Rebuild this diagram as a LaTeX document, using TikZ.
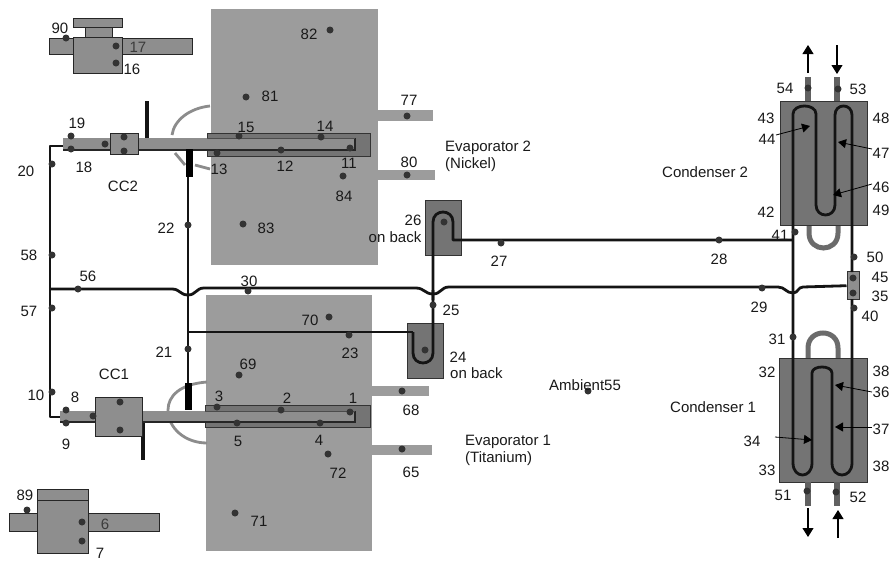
\documentclass[tikz,border=0pt]{standalone}
\usepackage{fontspec}
\setmainfont{Liberation Sans}
\usetikzlibrary{arrows.meta}
\definecolor{plate}{HTML}{9C9C9C}
\definecolor{dark}{HTML}{747474}
\definecolor{tubeg}{HTML}{8E8E8E}
\definecolor{sens}{HTML}{333333}
\definecolor{labg}{HTML}{3C3C3C}
\tikzset{
  plateb/.style={fill=plate},
  darkb/.style={fill=dark,draw=black!80,line width=1pt},
  partb/.style={fill=tubeg,draw=black!85,line width=1pt},
  pipe/.style={draw=black!92,line width=2.8pt,line join=round},
  thin pipe/.style={draw=black!92,line width=2pt},
  fatbar/.style={draw=black,line width=7pt},
  hose/.style={draw=black!45,line width=2.8pt},
  loopa/.style={draw=black!58,line width=5pt},
  coolant/.style={draw=black!62,line width=6pt},
  flow/.style={draw=black,line width=1.1pt,-{Triangle[length=9pt,width=11pt]}},
  leader/.style={draw=black,line width=.8pt,-{Triangle[length=8pt,width=9pt]}},
  sensor/.style={circle,fill=sens,inner sep=0pt,minimum size=7pt},
  lab/.style={font=\fontsize{15}{16}\selectfont,text=black!90,inner sep=0pt},
  leftlab/.style={lab,anchor=west,align=left},
}
\begin{document}
\begin{tikzpicture}[x=1pt,y=-1pt]
\useasboundingbox (0,0) rectangle (891,562);
\clip (0,0) rectangle (891,562);
% evaporator plates and fins
\foreach \a/\b/\c/\d in {211/9/378/265,206/295/372/551,378/110/433/121,378/170/435/180,372/386/429/396,372/445/432/455}{
  \fill[plateb] (\a,\b) rectangle (\c,\d);
}
% flexible loops
\draw[hose] (210,106) .. controls (190,108) and (174,120) .. (172,135);
\draw[hose] (175,153) -- (185,165);
\draw[hose] (195,165) -- (210,169);
\draw[hose] (207,382) .. controls (180,384) and (168,396) .. (168,410) .. controls (168,428) and (185,443) .. (207,443);
% upper inset
\node[partb,minimum width=143pt,minimum height=16pt,inner sep=0pt] (bar17) at (120.5,46) {};
\node[partb,minimum width=49pt,minimum height=9pt,inner sep=0pt] (cap17) at (97.5,22.5) {};
\node[partb,minimum width=27pt,minimum height=10pt,inner sep=0pt] (neck17) at (98.5,32) {};
\node[partb,minimum width=49pt,minimum height=36pt,inner sep=0pt] (block16) at (97.5,55) {};
% lower inset
\node[partb,minimum width=150pt,minimum height=18pt,inner sep=0pt] (bar6) at (84,522) {};
\node[partb,minimum width=51pt,minimum height=11pt,inner sep=0pt] (cap7) at (62.5,495) {};
\node[partb,minimum width=51pt,minimum height=53pt,inner sep=0pt] (block7) at (62.5,527) {};
% stubs
\coordinate (stub2a) at (147,101);
\coordinate (stub2b) at (147,140);
\coordinate (stub1a) at (143,420);
\coordinate (stub1b) at (143,460);
\draw[pipe,line width=3.4pt] (stub2a) -- (stub2b);
\draw[pipe,line width=3.4pt] (stub1a) -- (stub1b);
% evaporator sleeves
\node[darkb,minimum width=163pt,minimum height=23pt,inner sep=0pt] (sleeve2) at (288.5,144.5) {};
\node[darkb,minimum width=165pt,minimum height=22pt,inner sep=0pt] (sleeve1) at (287.5,416) {};
% heat-pipe tubes
\fill[tubeg] (63,138) rectangle (355,150);
\draw[black!85,line width=1.5pt] (63,150) -- (355,150) -- (355,138);
\draw[black!70,line width=.7pt] (207,138) -- (355,138);
\fill[tubeg] (60,411) rectangle (355,422);
\draw[black!85,line width=1.5pt] (60,422) -- (355,422) -- (355,411);
\draw[black!70,line width=.7pt] (205,411) -- (355,411);
% compensation chambers
\node[partb,minimum width=28pt,minimum height=21pt,inner sep=0pt] (cc2) at (124,143.5) {};
\node[partb,minimum width=47pt,minimum height=39pt,inner sep=0pt] (cc1) at (118.5,416.5) {};
% reservoir boxes
\node[darkb,minimum width=36pt,minimum height=55pt,inner sep=0pt] (box26) at (443,227.5) {};
\node[darkb,minimum width=36pt,minimum height=55pt,inner sep=0pt] (box24) at (425,350.5) {};
% coolant loops
\draw[loopa] (809,225) -- (809,233) .. controls (809,253) and (838,253) .. (838,233) -- (838,225);
\draw[loopa] (808,358) -- (808,348) .. controls (808,328) and (838,328) .. (838,348) -- (838,358);
% condenser boxes
\node[darkb,minimum width=87pt,minimum height=124pt,inner sep=0pt] (cond2) at (823.5,163) {};
\node[darkb,minimum width=88pt,minimum height=124pt,inner sep=0pt] (cond1) at (823,420) {};
% coolant stubs
\draw[coolant] (808,77) -- (808,101);
\draw[coolant] (837,77) -- (837,101);
\draw[coolant] (808,482) -- (808,506);
\draw[coolant] (837,482) -- (837,506);
% box 45/35
\node[fill=tubeg,draw=black!80,line width=1pt,minimum width=12pt,minimum height=28pt,inner sep=0pt] (box4535) at (853,285.5) {};
% main transport lines
\coordinate (j20a) at (63,146);
\coordinate (j10a) at (60,417);
\draw[pipe] (j20a) -- (50,146) -- (50,417) -- (j10a);
\draw[pipe] (188,160) -- (188,405);
\draw[fatbar] (189,149) -- (189,177);
\draw[fatbar] (188,383) -- (188,410);
\draw[pipe] (50,289) -- (172,289) .. controls (180,289) and (180,295) .. (188,295) .. controls (196,295) and (196,288) .. (204,288)
  -- (416,288) .. controls (424,288) and (425,294) .. (433,294) .. controls (441,294) and (441,287) .. (449,287)
  -- (778,287) .. controls (785,287) and (786,293) .. (793,293) .. controls (798,293) and (798,287) .. (803,287) -- (box4535);
\draw[thin pipe] (188,332) -- (413,332);
\draw[pipe] (433,300) -- (433,222) .. controls (433,208.7) and (453,208.7) .. (453,222) -- (453,240) -- (793,240);
\draw[pipe] (413,332) -- (413,353) .. controls (413,366.3) and (433,366.3) .. (433,353) -- (433,290);
% condenser serpentines
\draw[pipe] (793,463) -- (793,114) .. controls (793,103.3) and (816,103.3) .. (816,114) -- (816,205) .. controls (816,218.3) and (835,218.3) .. (835,205) -- (835,115) .. controls (835,103) and (852,103) .. (852,115) -- (852,272);
\draw[pipe] (793,463) .. controls (793,479) and (812,479) .. (812,463) -- (812,373) .. controls (812,365) and (832,365) .. (832,373) -- (832,463) .. controls (832,479) and (852,479) .. (852,463) -- (852,299);
% flow arrows
\coordinate (fa1) at (808,73); \coordinate (fa2) at (808,45);
\coordinate (fb1) at (837,45); \coordinate (fb2) at (837,74);
\coordinate (fc1) at (808,508); \coordinate (fc2) at (808,537);
\coordinate (fd1) at (838,538); \coordinate (fd2) at (838,510);
\draw[flow] (fa1) -- (fa2);
\draw[flow] (fb1) -- (fb2);
\draw[flow] (fc1) -- (fc2);
\draw[flow] (fd1) -- (fd2);
% leaders
\draw[leader] (776,135) -- (810,126);
\draw[leader] (872,149) -- (838,142);
\draw[leader] (872,184) -- (833,195);
\draw[leader] (872,392) -- (835,385);
\draw[leader] (872,427) -- (835,427);
\draw[leader] (775,437) -- (812,440);
% sensors
\foreach \n/\x/\y in {s90/66/38,s17/116/46,s16/116/63,s19/71/136,s18/71/149,sa/105/144,sb/124/137,sc/124/151,
 s15/239/136,s13/217/153,s12/281/150,s14/321/137,s11/350/148,s81/246/97,s82/330/30,s83/243/224,s84/343/176,
 s20/52/164,s58/52/255,s57/52/308,s56/78/289,s22/188/225,s21/188/349,s10/52/392,s8/66/410,s9/66/423,sd/93/416,se/120/402,sf/120/430,
 s3/217/407,s2/281/410,s1/350/412,s5/237/423,s4/320/423,s69/239/375,s70/329/317,s23/349/335,s72/328/454,s71/235/513,
 s30/248/291,s25/433/305,s26/444/222,s24/425/350,s27/501/243,s28/719/240,s29/762/288,s41/795/232,s50/854/257,s45/853/278,s35/853/293,s40/854/308,s31/793/337,
 s54/808/88,s53/838/89,s51/807/491,s52/836/492,s89/27/510,s6/82/522,s7/82/541,s55/588/391,s77/407/116,s80/407/175,s68/402/391,s65/402/449}
 {\node[sensor] (\n) at (\x,\y) {};}
% labels
\foreach \n/\t/\x/\y in {a/90/60/28,b/16/132/69,c/19/77/123,d/18/84/167,e/20/26/171,f/CC2/123/186,g/58/29/255,h/56/88/276,i/57/29/311,
 j/22/166/228,k/13/219/169,l/15/246/127,m/14/325/126,n/12/285/166,o/11/349/163,p/81/270/96,q/82/309/34,r/83/266/228,s/84/344/196,
 t/77/409/100,u/80/409/162,v/26/413/220,w/27/499/261,x/28/719/259,y/29/759/307,z/30/249/281,
 aa/25/451/310,ab/24/458/357,ac/70/310/320,ad/23/350/353,ae/69/248/364,af/21/164/352,ag/10/36/395,ah/8/75/397,ai/9/66/444,aj/CC1/114/374,
 ak/3/219/396,al/2/287/398,am/1/353/398,an/5/238/441,ao/4/319/440,ap/72/338/473,aq/71/259/521,ar/68/411/410,as/65/411/472,
 at/89/25/495,au/7/100/553,av/54/785/88,aw/53/858/89,ax/43/766/118,ay/44/767/139,az/48/881/118,ba/47/881/153,bb/46/881/187,
 bc/49/881/210,bd/42/766/212,be/41/780/235,bf/50/875/257,bg/45/880/277,bh/35/880/296,bi/40/870/316,bj/31/777/339,bk/32/767/372,
 bl/38/881/371,bm/36/881/392,bn/37/881/429,bo/34/752/441,bp/33/767/470,bq/38/881/466,br/51/783/495,bs/52/858/497}
 {\node[lab] (l\n) at (\x,\y) {\t};}
\node[lab,text=labg] (l17) at (138,47) {17};
\node[lab,text=labg] (l6) at (105,524) {6};
\node[lab] (lonb2) at (395,237) {on back};
\node[leftlab] (lonb1) at (450,373) {on back};
\node[leftlab] (levap2) at (445,148) {Evaporator 2};
\node[leftlab] (lnick) at (445,165) {(Nickel)};
\node[leftlab] (levap1) at (465,442) {Evaporator 1};
\node[leftlab] (ltita) at (465,459) {(Titanium)};
\node[leftlab] (lamb) at (549,385) {Ambient55};
\node[leftlab] (lcon2) at (662,172) {Condenser 2};
\node[leftlab] (lcon1) at (670,407) {Condenser 1};
\end{tikzpicture}
\end{document}
